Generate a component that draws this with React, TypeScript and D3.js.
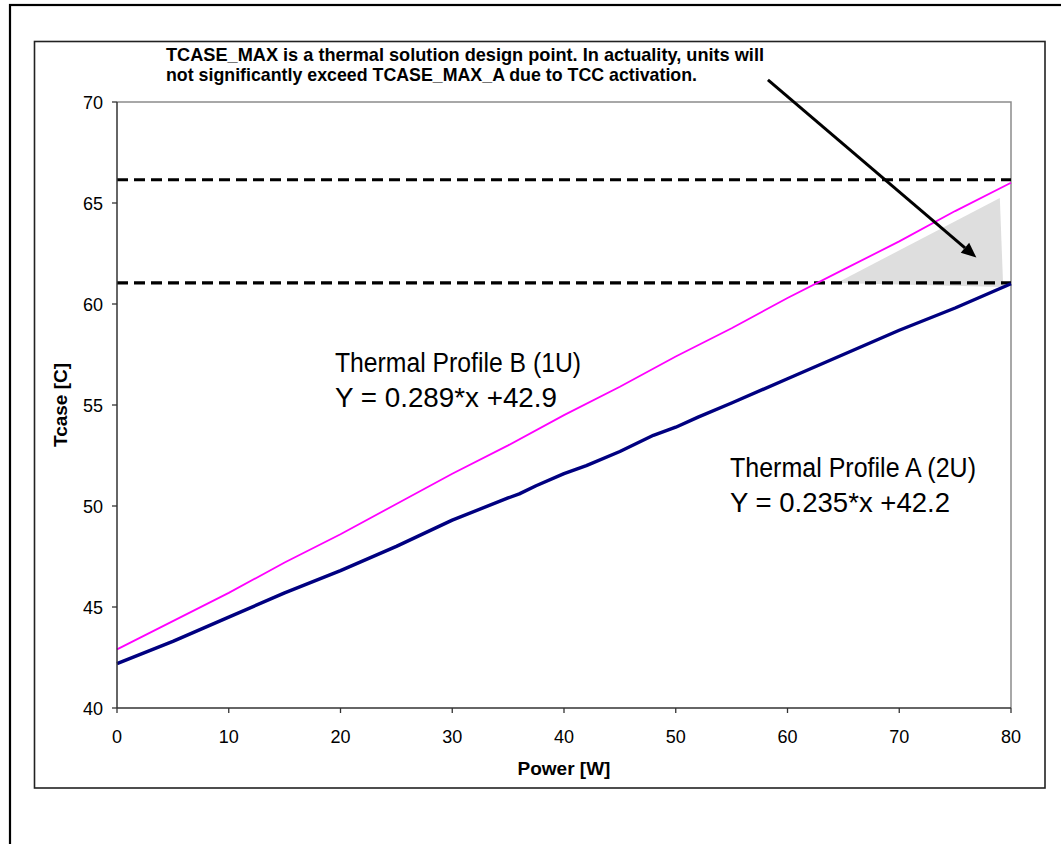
import * as d3 from 'd3'

const WIDTH = 1061
const HEIGHT = 844
const PLOT = { left: 117, right: 1011, top: 102, bottom: 708 }

const X_TICKS = [0, 10, 20, 30, 40, 50, 60, 70, 80]
const Y_TICKS = [40, 45, 50, 55, 60, 65, 70]

// Thermal Profile A (2U)
const PROFILE_A_X = [0, 5, 10, 15, 20, 25, 30, 35, 36, 37.5, 40, 42, 45, 48, 50, 52, 55, 60, 65, 70, 75, 80]
const PROFILE_A_Y = [42.2, 43.3, 44.5, 45.7, 46.8, 48.0, 49.3, 50.4, 50.6, 51.0, 51.6, 52.0, 52.7, 53.5, 53.9, 54.4, 55.1, 56.3, 57.5, 58.7, 59.8, 61.0]

// Thermal Profile B (1U)
const PROFILE_B_X = [0, 5, 10, 15, 20, 25, 30, 35, 40, 45, 50, 55, 60, 65, 70, 75, 80]
const PROFILE_B_Y = [42.9, 44.3, 45.7, 47.2, 48.6, 50.1, 51.6, 53.0, 54.5, 55.9, 57.4, 58.8, 60.3, 61.7, 63.1, 64.6, 66.0]

// TCASE_MAX design points (dashed)
const TCASE_MAX_LEVELS = [66.15, 61.05]

// shaded region between the limits
const SHADE_X = [64.4, 79.0, 79.3]
const SHADE_Y = [61.04, 65.25, 60.84]

// arrow from the note to the shaded region
const ARROW_X = [58.25, 76.9]
const ARROW_Y = [71.1, 62.3]

const NOTE_LINES = [
  'TCASE_MAX is a thermal solution design point. In actuality, units will',
  'not significantly exceed TCASE_MAX_A due to TCC activation.',
]
const NOTE_WIDTHS = [598, 531]

const LABEL_B = ['Thermal Profile B (1U)', 'Y = 0.289*x +42.9']
const LABEL_B_WIDTHS = [246, 222]
const LABEL_A = ['Thermal Profile A (2U)', 'Y = 0.235*x +42.2']
const LABEL_A_WIDTHS = [246, 220]

const FONT = 'Arial, "Liberation Sans", Helvetica, sans-serif'
const NARROW = '"Liberation Sans Narrow", "Arial Narrow", Arial, "Liberation Sans", sans-serif'

export default function App() {
  const x = d3.scaleLinear().domain([0, 80]).range([PLOT.left, PLOT.right])
  const y = d3.scaleLinear().domain([40, 70]).range([PLOT.bottom, PLOT.top])

  const line = d3
    .line<[number, number]>()
    .x((d) => x(d[0]))
    .y((d) => y(d[1]))

  const seriesA = PROFILE_A_X.map((v, i) => [v, PROFILE_A_Y[i]] as [number, number])
  const seriesB = PROFILE_B_X.map((v, i) => [v, PROFILE_B_Y[i]] as [number, number])
  const shade = SHADE_X.map((v, i) => [v, SHADE_Y[i]] as [number, number])

  const ax1 = x(ARROW_X[0])
  const ay1 = y(ARROW_Y[0])
  const ax2 = x(ARROW_X[1])
  const ay2 = y(ARROW_Y[1])
  const angle = Math.atan2(ay2 - ay1, ax2 - ax1)
  const headLen = 15
  const headW = 6.5
  const bx = ax2 - headLen * Math.cos(angle)
  const by = ay2 - headLen * Math.sin(angle)
  const head = [
    [ax2, ay2],
    [bx + headW * Math.sin(angle), by - headW * Math.cos(angle)],
    [bx - headW * Math.sin(angle), by + headW * Math.cos(angle)],
  ]

  return (
    <svg
      width={WIDTH}
      height={HEIGHT}
      viewBox={`0 0 ${WIDTH} ${HEIGHT}`}
      style={{ position: 'absolute', left: 0, top: 0, background: '#fff' }}
      fontFamily={FONT}
    >
      {/* outer frame, only top and left fall inside the picture */}
      <rect x={10} y={5} width={1100} height={900} fill="#fff" stroke="#000" strokeWidth={2.2} />
      {/* chart area */}
      <rect x={34.5} y={41.5} width={1010.5} height={746.5} fill="#fff" stroke="#222" strokeWidth={1.6} />

      {/* plot border top and right */}
      <path
        d={`M${PLOT.left},${PLOT.top}H${PLOT.right}V${PLOT.bottom}`}
        fill="none"
        stroke="#8c8c8c"
        strokeWidth={1.5}
      />

      {/* shaded region */}
      <path d={line(shade) + 'Z'} fill="#dedede" stroke="none" />

      {/* dashed TCASE_MAX lines */}
      {TCASE_MAX_LEVELS.map((lv) => (
        <line
          key={lv}
          x1={PLOT.left}
          x2={PLOT.right}
          y1={y(lv)}
          y2={y(lv)}
          stroke="#000"
          strokeWidth={3.2}
          strokeDasharray="11 6"
        />
      ))}

      {/* series */}
      <path d={line(seriesB) ?? undefined} fill="none" stroke="#ff00ff" strokeWidth={1.8} />
      <path d={line(seriesA) ?? undefined} fill="none" stroke="#000080" strokeWidth={3.4} strokeLinejoin="round" />

      {/* axes */}
      <line x1={PLOT.left} x2={PLOT.left} y1={PLOT.top} y2={PLOT.bottom} stroke="#333" strokeWidth={1.5} />
      <line x1={PLOT.left} x2={PLOT.right} y1={PLOT.bottom} y2={PLOT.bottom} stroke="#333" strokeWidth={1.5} />

      {Y_TICKS.map((t) => (
        <g key={`y${t}`}>
          <line x1={PLOT.left - 5} x2={PLOT.left} y1={y(t)} y2={y(t)} stroke="#333" strokeWidth={1.3} />
          <text x={103} y={y(t) + 6.5} textAnchor="end" fontSize={18} fill="#000">
            {t}
          </text>
        </g>
      ))}
      {X_TICKS.map((t) => (
        <g key={`x${t}`}>
          <line x1={x(t)} x2={x(t)} y1={PLOT.bottom} y2={PLOT.bottom + 5} stroke="#333" strokeWidth={1.3} />
          <text x={x(t)} y={743} textAnchor="middle" fontSize={18} fill="#000">
            {t}
          </text>
        </g>
      ))}

      {/* axis titles */}
      <text x={(PLOT.left + PLOT.right) / 2} y={775} textAnchor="middle" fontSize={19} fontWeight="bold">
        Power [W]
      </text>
      <text
        transform={`translate(67 ${(PLOT.top + PLOT.bottom) / 2}) rotate(-90)`}
        textAnchor="middle"
        fontSize={19}
        fontWeight="bold"
      >
        Tcase [C]
      </text>

      {/* arrow */}
      <line x1={ax1} y1={ay1} x2={bx} y2={by} stroke="#000" strokeWidth={3} />
      <polygon points={head.map((p) => p.join(',')).join(' ')} fill="#000" />

      {/* note */}
      {NOTE_LINES.map((t, i) => (
        <text
          key={t}
          x={166}
          y={61 + i * 19.5}
          fontFamily={NARROW}
          fontSize={19}
          fontWeight="bold"
          textLength={NOTE_WIDTHS[i]}
          lengthAdjust="spacingAndGlyphs"
        >
          {t}
        </text>
      ))}

      {/* profile labels */}
      {LABEL_B.map((t, i) => (
        <text
          key={t}
          x={335}
          y={372 + i * 35}
          fontSize={27}
          textLength={LABEL_B_WIDTHS[i]}
          lengthAdjust="spacingAndGlyphs"
        >
          {t}
        </text>
      ))}
      {LABEL_A.map((t, i) => (
        <text
          key={t}
          x={730}
          y={477 + i * 35}
          fontSize={27}
          textLength={LABEL_A_WIDTHS[i]}
          lengthAdjust="spacingAndGlyphs"
        >
          {t}
        </text>
      ))}
    </svg>
  )
}
